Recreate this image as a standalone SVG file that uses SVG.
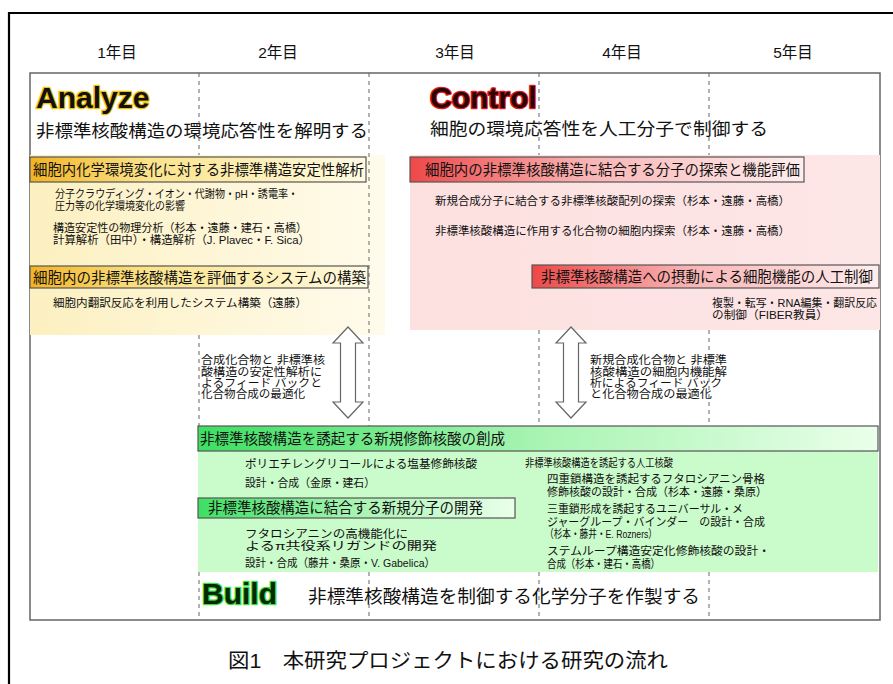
<svg xmlns="http://www.w3.org/2000/svg" width="893" height="684" viewBox="0 0 893 684">
<defs>
<linearGradient id="gYbg" x1="0" y1="0" x2="1" y2="0"><stop offset="0" stop-color="#fcf0c0"/><stop offset="1" stop-color="#fffbec"/></linearGradient>
<linearGradient id="gYh" x1="0" y1="0" x2="1" y2="0"><stop offset="0" stop-color="#f2b323"/><stop offset="0.35" stop-color="#fbe38a"/><stop offset="1" stop-color="#fffbe2"/></linearGradient>
<linearGradient id="gPh" x1="0" y1="0" x2="1" y2="0"><stop offset="0" stop-color="#ee4848"/><stop offset="0.45" stop-color="#f9b4b4"/><stop offset="1" stop-color="#ffeeee"/></linearGradient>
<linearGradient id="gGh" x1="0" y1="0" x2="1" y2="0"><stop offset="0" stop-color="#3ddf62"/><stop offset="0.5" stop-color="#a8f4b2"/><stop offset="1" stop-color="#eaffea"/></linearGradient>
<linearGradient id="gPbg" x1="0" y1="0" x2="1" y2="0"><stop offset="0" stop-color="#fde0e0"/><stop offset="1" stop-color="#fde6e6"/></linearGradient>
</defs>
<style>
text{font-family:"Liberation Sans","Noto Sans CJK JP",sans-serif;fill:#111}
.yr{font-size:15.5px;text-anchor:middle}
.big{font-size:30px;font-weight:bold;paint-order:stroke;stroke-width:2.6px;stroke-linejoin:round}
.sub{font-size:17.5px}
.hd{font-size:14.5px}
.sm{font-size:11.5px}
.hbox{stroke:#555;stroke-width:1.2}
.dash{fill:none;stroke:#555;stroke-width:0.9;stroke-dasharray:4 4}
.arr{fill:#fff;stroke:#666;stroke-width:1.2}
</style>
<path d="M9 684 V13 H893" fill="none" stroke="#000" stroke-width="2.2"/>
<g id="years">
<text class="yr" x="117" y="58">1年目</text>
<text class="yr" x="278" y="58">2年目</text>
<text class="yr" x="455" y="58">3年目</text>
<text class="yr" x="622" y="58">4年目</text>
<text class="yr" x="793" y="58">5年目</text>
</g>
<rect x="30" y="73" width="850" height="547" fill="#fff" stroke="#666" stroke-width="1.5"/>
<g id="analyze">
<rect x="30" y="155" width="355" height="180" fill="url(#gYbg)"/>
<text class="big" x="36" y="108" style="stroke:#f2c200">Analyze</text>
<text class="sub" x="36" y="137" textLength="332" lengthAdjust="spacingAndGlyphs">非標準核酸構造の環境応答性を解明する</text>
</g>
<g id="control">
<rect x="410" y="155" width="470" height="175" fill="url(#gPbg)"/>
<text class="big" x="430" y="108" style="fill:#2a0505;stroke:#e01a1a">Control</text>
<text class="sub" x="430" y="135" textLength="338" lengthAdjust="spacingAndGlyphs">細胞の環境応答性を人工分子で制御する</text>
</g>
<g id="build">
<rect x="198" y="450" width="680" height="122" fill="#cafbca"/>
<text class="big" x="202" y="604" style="fill:#062a06;stroke:#3cdc3c">Build</text>
<text class="sub" x="308" y="603" style="font-size:18px" textLength="392" lengthAdjust="spacingAndGlyphs">非標準核酸構造を制御する化学分子を作製する</text>
</g>
<g id="connectors">
<path class="dash" d="M199 73 V155 M199 335 V426 M199 572 V620"/>
<path class="dash" d="M369 73 V426 M369 572 V620"/>
<path class="dash" d="M539 73 V155 M539 330 V426 M539 572 V620"/>
<path class="dash" d="M709 73 V155 M709 330 V426 M709 572 V620"/>
<path class="arr" d="M348 327 L363 343 L355.5 343 L355.5 402 L363 402 L348 418 L333 402 L340.5 402 L340.5 343 L333 343 Z"/>
<path class="arr" d="M571 327 L586 343 L578.5 343 L578.5 402 L586 402 L571 418 L556 402 L563.5 402 L563.5 343 L556 343 Z"/>
</g>
<g id="node-y1">
<rect class="hbox" x="30" y="157" width="336" height="25" fill="url(#gYh)"/>
<text class="hd" x="33" y="175" textLength="331" lengthAdjust="spacingAndGlyphs">細胞内化学環境変化に対する非標準構造安定性解析</text>
<text class="sm" x="55" y="198" textLength="243" lengthAdjust="spacingAndGlyphs">分子クラウディング・イオン・代謝物・pH・誘電率・</text>
<text class="sm" x="55" y="210" textLength="130" lengthAdjust="spacingAndGlyphs">圧力等の化学環境変化の影響</text>
<text class="sm" x="53" y="232" textLength="254" lengthAdjust="spacingAndGlyphs">構造安定性の物理分析（杉本・遠藤・建石・高橋）</text>
<text class="sm" x="53" y="244" textLength="257" lengthAdjust="spacingAndGlyphs">計算解析（田中）・構造解析（J. Plavec・F. Sica）</text>
</g>
<g id="node-y2">
<rect class="hbox" x="30" y="266" width="338" height="22" fill="url(#gYh)"/>
<text class="hd" x="33" y="283" textLength="333" lengthAdjust="spacingAndGlyphs">細胞内の非標準核酸構造を評価するシステムの構築</text>
<text class="sm" x="53" y="307" textLength="254" lengthAdjust="spacingAndGlyphs">細胞内翻訳反応を利用したシステム構築（遠藤）</text>
</g>
<g id="node-p1">
<rect class="hbox" x="410" y="157" width="394" height="25" fill="url(#gPh)"/>
<text class="hd" x="425" y="175" textLength="375" lengthAdjust="spacingAndGlyphs">細胞内の非標準核酸構造に結合する分子の探索と機能評価</text>
<text class="sm" x="435" y="205" textLength="355" lengthAdjust="spacingAndGlyphs">新規合成分子に結合する非標準核酸配列の探索（杉本・遠藤・高橋）</text>
<text class="sm" x="435" y="235" textLength="355" lengthAdjust="spacingAndGlyphs">非標準核酸構造に作用する化合物の細胞内探索（杉本・遠藤・高橋）</text>
</g>
<g id="node-p2">
<rect class="hbox" x="532" y="265" width="347" height="23" fill="url(#gPh)"/>
<text class="hd" x="541" y="282" textLength="332" lengthAdjust="spacingAndGlyphs">非標準核酸構造への摂動による細胞機能の人工制御</text>
<text class="sm" x="712" y="307" textLength="165" lengthAdjust="spacingAndGlyphs">複製・転写・RNA編集・翻訳反応</text>
<text class="sm" x="712" y="319" textLength="116" lengthAdjust="spacingAndGlyphs">の制御（FIBER教員）</text>
</g>
<g id="node-feedback-left">
<text class="sm" x="201" y="364" textLength="124" lengthAdjust="spacingAndGlyphs">合成化合物と 非標準核</text>
<text class="sm" x="201" y="376" textLength="121" lengthAdjust="spacingAndGlyphs">酸構造の安定性解析に</text>
<text class="sm" x="201" y="387" textLength="121" lengthAdjust="spacingAndGlyphs">よるフィード バックと</text>
<text class="sm" x="201" y="398" textLength="104" lengthAdjust="spacingAndGlyphs">化合物合成の最適化</text>
</g>
<g id="node-feedback-right">
<text class="sm" x="590" y="364" textLength="137" lengthAdjust="spacingAndGlyphs">新規合成化合物と 非標準</text>
<text class="sm" x="590" y="376" textLength="137" lengthAdjust="spacingAndGlyphs">核酸構造の細胞内機能解</text>
<text class="sm" x="590" y="387" textLength="132" lengthAdjust="spacingAndGlyphs">析によるフィード バック</text>
<text class="sm" x="590" y="398" textLength="122" lengthAdjust="spacingAndGlyphs">と化合物合成の最適化</text>
</g>
<g id="node-g1">
<rect class="hbox" x="198" y="426" width="680" height="25" fill="url(#gGh)"/>
<text class="hd" x="200" y="444" textLength="305" lengthAdjust="spacingAndGlyphs">非標準核酸構造を誘起する新規修飾核酸の創成</text>
<text class="sm" x="245" y="468" textLength="232" lengthAdjust="spacingAndGlyphs">ポリエチレングリコールによる塩基修飾核酸</text>
<text class="sm" x="245" y="487" textLength="130" lengthAdjust="spacingAndGlyphs">設計・合成（金原・建石）</text>
<text class="sm" x="525" y="467" textLength="148" lengthAdjust="spacingAndGlyphs">非標準核酸構造を誘起する人工核酸</text>
<text class="sm" x="547" y="483" textLength="218" lengthAdjust="spacingAndGlyphs">四重鎖構造を誘起するフタロシアニン骨格</text>
<text class="sm" x="547" y="496" textLength="220" lengthAdjust="spacingAndGlyphs">修飾核酸の設計・合成（杉本・遠藤・桑原）</text>
<text class="sm" x="547" y="513" textLength="196" lengthAdjust="spacingAndGlyphs">三重鎖形成を誘起するユニバーサル・メ</text>
<text class="sm" x="547" y="526" textLength="218" lengthAdjust="spacingAndGlyphs">ジャーグループ・バインダー　の設計・合成</text>
<text class="sm" x="545" y="538" textLength="112" lengthAdjust="spacingAndGlyphs">（杉本・藤井・E. Rozners）</text>
<text class="sm" x="547" y="555" textLength="223" lengthAdjust="spacingAndGlyphs">ステムループ構造安定化修飾核酸の設計・</text>
<text class="sm" x="547" y="568" textLength="113" lengthAdjust="spacingAndGlyphs">合成（杉本・建石・高橋）</text>
</g>
<g id="node-g2">
<rect class="hbox" x="198" y="498" width="317" height="20" fill="url(#gGh)"/>
<text class="hd" x="208" y="513" textLength="275" lengthAdjust="spacingAndGlyphs">非標準核酸構造に結合する新規分子の開発</text>
<text class="sm" x="245" y="538" textLength="163" lengthAdjust="spacingAndGlyphs">フタロシアニンの高機能化に</text>
<text class="sm" x="245" y="550" textLength="192" lengthAdjust="spacingAndGlyphs">よるπ共役系リガンドの開発</text>
<text class="sm" x="245" y="567" textLength="190" lengthAdjust="spacingAndGlyphs">設計・合成（藤井・桑原・V. Gabelica）</text>
</g>
<text x="228" y="668" style="font-size:20px" textLength="440" lengthAdjust="spacingAndGlyphs">図1　本研究プロジェクトにおける研究の流れ</text>
</svg>
